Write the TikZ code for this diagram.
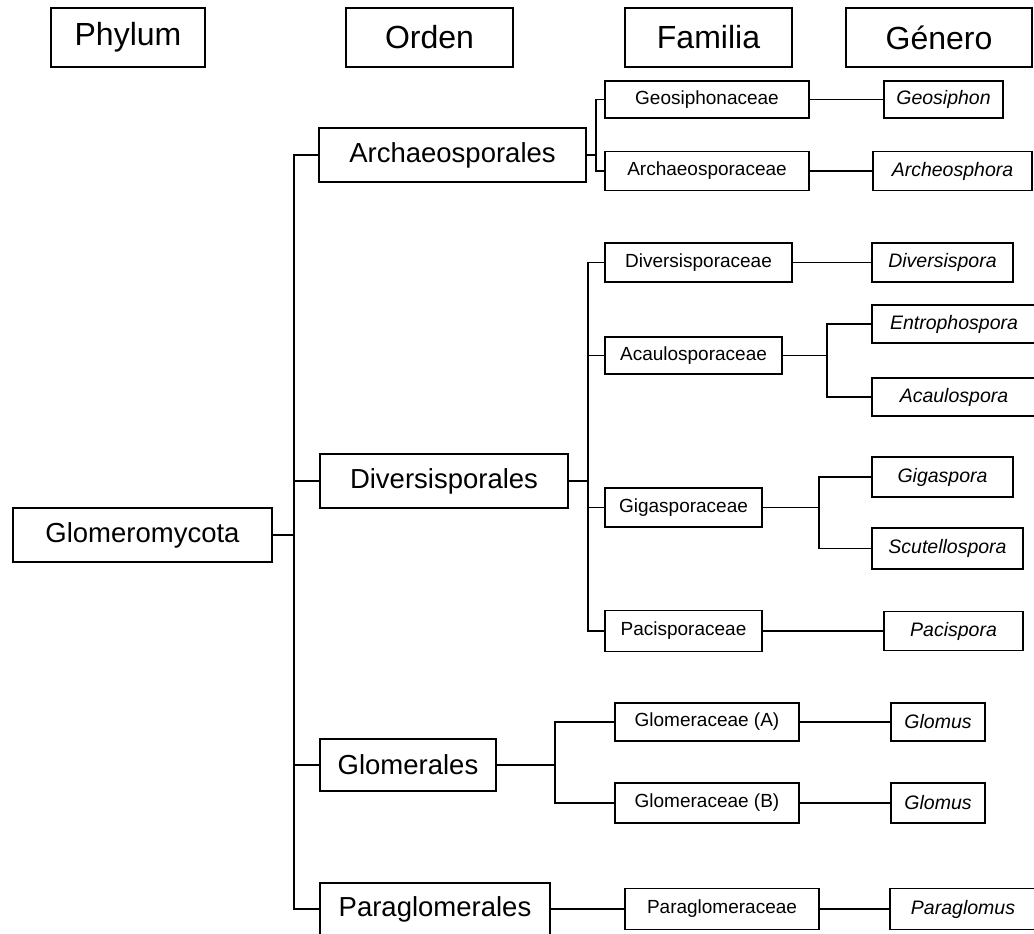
\documentclass[tikz,border=0pt]{standalone}
\usepackage{fontspec}
\setmainfont{Liberation Sans}
\usetikzlibrary{positioning,shapes}

\begin{document}
\begin{tikzpicture}[x=1pt,y=-1pt,line width=1.1pt]
	\tikzstyle{head}
	  =[draw, rectangle, inner sep=0pt, minimum height=59pt,
	  font=\fontsize{32}{36}\selectfont, text centered]
	\tikzstyle{ordo}
	  =[draw, rectangle, inner sep=0pt, minimum height=54pt,
	  font=\fontsize{27.5}{32}\selectfont, text centered]
	\tikzstyle{fam}
	  =[draw, rectangle, inner sep=0pt, minimum height=39pt,
	  font=\fontsize{19}{23}\selectfont, text centered]
	\tikzstyle{gen}
	  =[draw, rectangle, inner sep=0pt, minimum height=39pt,
	  font=\fontsize{19.5}{23}\selectfont\itshape, text centered]

	\useasboundingbox (0,0) rectangle (1034,934);

	% headings
	\node[head, minimum width=154pt] (phylum)
	  at (128,37.5) {Phylum};
	\node[head, minimum width=167pt] (orden)
	  at (429.5,37.5) {Orden};
	\node[head, minimum width=167pt] (familia)
	  at (708.5,37.5) {Familia};
	\node[head, minimum width=186pt] (genero)
	  at (939,37.5) {Género};

	% phylum and orders
	\node[ordo, minimum width=259pt] (glomeromycota)
	  at (142.5,535) {Glomeromycota};
	\node[ordo, minimum width=267pt] (archaeo)
	  at (452.5,155) {Archaeosporales};
	\node[ordo, minimum width=248pt] (diversi)
	  at (444,481) {Diversisporales};
	\node[ordo, minimum width=176pt, minimum height=52pt] (glomerales)
	  at (408,765) {Glomerales};
	\node[ordo, minimum width=230pt, minimum height=52pt] (paraglo)
	  at (435,909) {Paraglomerales};

	% families
	\node[fam, minimum width=204pt, minimum height=37pt] (geosiphonaceae)
	  at (707,99.5) {Geosiphonaceae};
	\node[fam, minimum width=204pt] (archaeosporaceae)
	  at (707,171) {Archaeosporaceae};
	\node[fam, minimum width=187pt] (diversisporaceae)
	  at (698.5,262.5) {Diversisporaceae};
	\node[fam, minimum width=177pt, minimum height=37pt] (acaulosporaceae)
	  at (693.5,355.5) {Acaulosporaceae};
	\node[fam, minimum width=157pt] (gigasporaceae)
	  at (683.5,507.5) {Gigasporaceae};
	\node[fam, minimum width=157pt, minimum height=41pt] (pacisporaceae)
	  at (683.5,631) {Pacisporaceae};
	\node[fam, minimum width=184pt, minimum height=38pt] (glomA)
	  at (707,722) {Glomeraceae (A)};
	\node[fam, minimum width=184pt, minimum height=40pt] (glomB)
	  at (707,803) {Glomeraceae (B)};
	\node[fam, minimum width=194pt, minimum height=41pt] (paraglomeraceae)
	  at (722,909) {Paraglomeraceae};

	% genera
	\node[gen, minimum width=119pt, minimum height=37pt] (geosiphon)
	  at (943.5,99.5) {Geosiphon};
	\node[gen, minimum width=159pt] (archeosphora)
	  at (952.5,171) {Archeosphora};
	\node[gen, minimum width=141pt] (diversispora)
	  at (942.5,262.5) {Diversispora};
	\node[gen, minimum width=164pt, minimum height=38pt] (entrophospora)
	  at (954,324) {Entrophospora};
	\node[gen, minimum width=164pt, minimum height=38pt] (acaulospora)
	  at (954,397) {Acaulospora};
	\node[gen, minimum width=141pt, minimum height=40pt] (gigaspora)
	  at (942.5,477) {Gigaspora};
	\node[gen, minimum width=151pt, minimum height=41pt] (scutellospora)
	  at (947.5,548.5) {Scutellospora};
	\node[gen, minimum width=139pt] (pacispora)
	  at (953.5,631) {Pacispora};
	\node[gen, minimum width=94pt, minimum height=38pt] (glomusA)
	  at (938,722) {Glomus};
	\node[gen, minimum width=94pt, minimum height=40pt] (glomusB)
	  at (938,803) {Glomus};
	\node[gen, minimum width=146pt, minimum height=41pt] (paraglomus)
	  at (963,909) {Paraglomus};

	% forks
	\coordinate (trunk) at (294,0);
	\coordinate (archfork) at (596,0);
	\coordinate (divfork) at (588,0);
	\coordinate (glofork) at (555,0);
	\coordinate (acafork) at (827,0);
	\coordinate (gigfork) at (819,0);

	\draw (glomeromycota.east) -- (glomeromycota.east -| trunk);
	\draw (archaeo.west) -| (trunk |- paraglo.west) -- (paraglo.west);
	\draw (diversi.west) -- (diversi.west -| trunk);
	\draw (glomerales.west) -- (glomerales.west -| trunk);
	\draw[line width=2pt] (diversi.west -| trunk) -- (glomeromycota.east -| trunk);

	\draw (archaeo.east) -- (archaeo.east -| archfork);
	\draw (geosiphonaceae.west) -| (archfork |- archaeosporaceae.west)
	  -- (archaeosporaceae.west);

	\draw (diversi.east) -- (diversi.east -| divfork);
	\draw (diversisporaceae.west) -| (divfork |- pacisporaceae.west)
	  -- (pacisporaceae.west);
	\draw (acaulosporaceae.west) -- (acaulosporaceae.west -| divfork);
	\draw (gigasporaceae.west) -- (gigasporaceae.west -| divfork);

	\draw (glomerales.east) -- (glomerales.east -| glofork);
	\draw (glomA.west) -| (glofork |- glomB.west) -- (glomB.west);

	\draw (paraglo.east) -- (paraglomeraceae.west);

	\draw (geosiphonaceae)--(geosiphon);
	\draw (archaeosporaceae)--(archeosphora);
	\draw (diversisporaceae)--(diversispora);
	\draw (acaulosporaceae.east) -- (acaulosporaceae.east -| acafork);
	\draw (entrophospora.west) -| (acafork |- acaulospora.west)
	  -- (acaulospora.west);
	\draw (gigasporaceae.east) -- (gigasporaceae.east -| gigfork);
	\draw (gigaspora.west) -| (gigfork |- scutellospora.west)
	  -- (scutellospora.west);
	\draw (pacisporaceae)--(pacispora);
	\draw (glomA)--(glomusA);
	\draw (glomB)--(glomusB);
	\draw (paraglomeraceae)--(paraglomus);
\end{tikzpicture}
\end{document}
